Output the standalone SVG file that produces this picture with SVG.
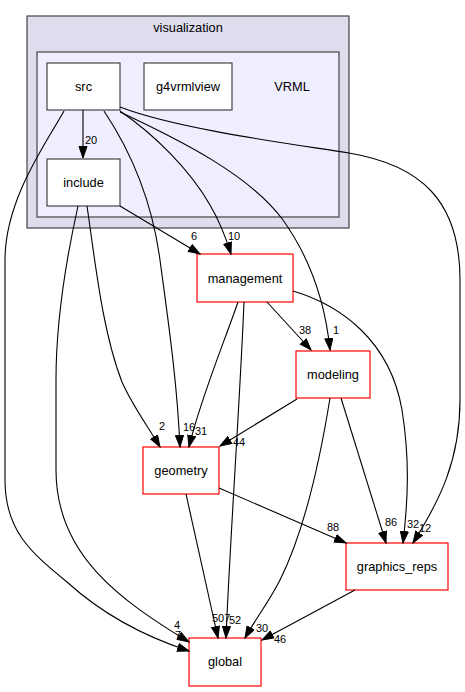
<svg xmlns="http://www.w3.org/2000/svg" width="465" height="692" viewBox="0 0 465 692">
<style>
text{font-family:"Liberation Sans",Arial,sans-serif;fill:#000}
.nl{font-size:12.8px;text-anchor:middle}
.el{font-size:11px}
.dir{fill:#fff;stroke:#444;stroke-width:1.2}
.ext{fill:#fff;stroke:#ff0000;stroke-width:1.2}
.e{fill:none;stroke:#000;stroke-width:1.1}
</style>
<defs>
<marker id="ah" markerUnits="userSpaceOnUse" markerWidth="14" markerHeight="11" refX="12" refY="4.5" orient="auto">
<path d="M0.5,0.5 L12,4.5 L0.5,8.5 z" fill="#000" stroke="#000" stroke-width="1"/>
</marker>
</defs>
<g id="cluster_visualization">
<rect x="27" y="16" width="322" height="212" fill="#ddddee" stroke="#444" stroke-width="1.2"/>
<text class="nl" x="188" y="32">visualization</text>
</g>
<g id="cluster_VRML">
<rect x="37" y="52" width="302" height="165" fill="#eeeeff" stroke="#444" stroke-width="1.2"/>
<text class="nl" x="292" y="90.5">VRML</text>
</g>
<g id="node_src">
<rect class="dir" x="47" y="63" width="73" height="47"/>
<text class="nl" x="83.5" y="90.5">src</text>
</g>
<g id="node_g4vrmlview">
<rect class="dir" x="144" y="63" width="88" height="47"/>
<text class="nl" x="188" y="90.5">g4vrmlview</text>
</g>
<g id="node_include">
<rect class="dir" x="47" y="159" width="73" height="47"/>
<text class="nl" x="83.5" y="186.5">include</text>
</g>
<g id="node_management">
<rect class="ext" x="197" y="254" width="96" height="48"/>
<text class="nl" x="245" y="282.5">management</text>
</g>
<g id="node_modeling">
<rect class="ext" x="296" y="351" width="74" height="47"/>
<text class="nl" x="333" y="379">modeling</text>
</g>
<g id="node_geometry">
<rect class="ext" x="143" y="447" width="76" height="47"/>
<text class="nl" x="181" y="475">geometry</text>
</g>
<g id="node_graphics_reps">
<rect class="ext" x="346" y="543" width="102" height="47"/>
<text class="nl" x="397" y="571">graphics_reps</text>
</g>
<g id="node_global">
<rect class="ext" x="189" y="638" width="72" height="48"/>
<text class="nl" x="225" y="666">global</text>
</g>
<g id="connectors">
<path class="e" marker-end="url(#ah)" d="M83,110 L83,158"/>
<text class="el" x="85" y="143.5">20</text>
<path class="e" marker-end="url(#ah)" d="M64,111 C45,145 5,200 5,260 L5,480 C5,530 30,552 67,582 C100,612 140,635 189,651"/>
<text class="el" x="175" y="639">7</text>
<path class="e" marker-end="url(#ah)" d="M78,206 C66,260 56,320 56,380 L56,470 C56,555 120,600 189,642"/>
<text class="el" x="174" y="629">4</text>
<path class="e" marker-end="url(#ah)" d="M87,206 C95,260 102,330 122,382 C132,405 147,425 160,447"/>
<text class="el" x="159" y="430">2</text>
<path class="e" marker-end="url(#ah)" d="M104,111 C130,150 152,200 160,260 C168,320 177,380 180,447"/>
<text class="el" x="183" y="431">16</text>
<path class="e" marker-end="url(#ah)" d="M120,111 C155,135 190,170 210,205 C220,222 226,238 231,254"/>
<text class="el" x="228" y="240">10</text>
<path class="e" marker-end="url(#ah)" d="M120,112 C180,140 250,175 283,220 C310,258 325,300 330,350"/>
<text class="el" x="333" y="334">1</text>
<path class="e" marker-end="url(#ah)" d="M120,107 C180,130 300,145 349,153 C420,165 460,200 460,280 L460,400 C460,460 440,500 413,543"/>
<text class="el" x="419" y="532">12</text>
<path class="e" marker-end="url(#ah)" d="M120,206 L200,254"/>
<text class="el" x="191" y="240">6</text>
<path class="e" marker-end="url(#ah)" d="M267,302 L311,350"/>
<text class="el" x="299" y="334">38</text>
<path class="e" marker-end="url(#ah)" d="M238,302 C225,340 200,400 189,447"/>
<text class="el" x="195" y="435">31</text>
<path class="e" marker-end="url(#ah)" d="M244,302 C240,400 230,540 226,638"/>
<text class="el" x="229" y="624">52</text>
<path class="e" marker-end="url(#ah)" d="M293,291 C340,305 390,340 402,410 C410,460 408,500 403,543"/>
<text class="el" x="407" y="528">32</text>
<path class="e" marker-end="url(#ah)" d="M297,399 L220,446"/>
<text class="el" x="233" y="446">44</text>
<path class="e" marker-end="url(#ah)" d="M330,398 C320,460 305,530 280,580 C270,600 255,620 245,638"/>
<text class="el" x="256" y="632">30</text>
<path class="e" marker-end="url(#ah)" d="M341,398 L386,543"/>
<text class="el" x="385" y="526">86</text>
<path class="e" marker-end="url(#ah)" d="M186,494 L218,638"/>
<text class="el" x="212" y="622">507</text>
<path class="e" marker-end="url(#ah)" d="M219,488 L346,543"/>
<text class="el" x="327" y="531">88</text>
<path class="e" marker-end="url(#ah)" d="M355,590 L262,640"/>
<text class="el" x="274" y="643">46</text>
</g>
</svg>
